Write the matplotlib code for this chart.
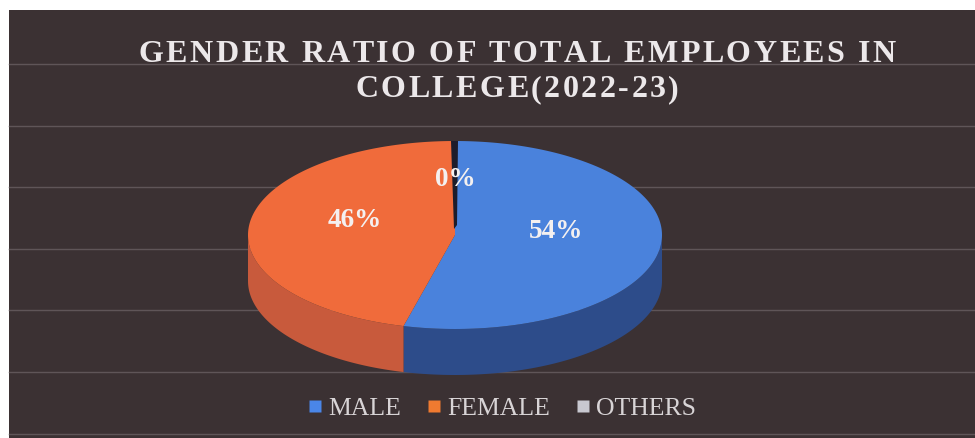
import numpy as np
import matplotlib.pyplot as plt
from matplotlib.patches import Polygon, Rectangle
from matplotlib.lines import Line2D

# データ
categories = ['MALE', 'FEMALE', 'OTHERS']
shares = [54, 46, 0]
title_lines = ['GENDER RATIO OF TOTAL EMPLOYEES IN', 'COLLEGE(2022-23)']

top_colors = ['#4a82dc', '#f06b3b', '#a5a5a5']
side_colors = ['#2d4c8a', '#c85a3c', '#7a7a7a']
legend_colors = ['#4a86e8', '#f07a30', '#c8c8d0']

W, H = 975, 439
fig = plt.figure(figsize=(W / 100, H / 100), dpi=100, facecolor='white')
ax = fig.add_axes([0, 0, 1, 1])
ax.set_xlim(0, W)
ax.set_ylim(H, 0)  # ピクセル座標（上が0）
ax.axis('off')

# 背景と横罫線
ax.add_patch(Rectangle((9, 11), W - 9, H - 11, facecolor='#3b3133', edgecolor='none', zorder=0))
for gy in 65 + 61.6 * np.arange(7):
    ax.plot([9, W], [gy, gy], color='#5f5558', lw=1.0, zorder=1)

# 3D円グラフの形状
cx, cy, rx, ry, depth = 455, 236, 207, 94, 46

def rim(t0, t1, n=150):
    t = np.radians(np.linspace(t0, t1, n))
    return cx + rx * np.sin(t), cy - ry * np.cos(t)

total = sum(shares)
bounds = np.concatenate([[0], np.cumsum(shares) / total * 360])

# 側面（手前側のみ）
for i in range(len(shares)):
    lo, hi = max(bounds[i], 90), min(bounds[i + 1], 270)
    if hi <= lo:
        continue
    x, y = rim(lo, hi)
    pts = np.column_stack([np.concatenate([x, x[::-1]]), np.concatenate([y, (y + depth)[::-1]])])
    ax.add_patch(Polygon(pts, closed=True, facecolor=side_colors[i], edgecolor='none', zorder=3))

# 上面
for i in range(len(shares)):
    if shares[i] == 0:
        continue
    x, y = rim(bounds[i], bounds[i + 1])
    pts = np.column_stack([np.concatenate([[cx], x]), np.concatenate([[cy], y])])
    ax.add_patch(Polygon(pts, closed=True, facecolor=top_colors[i], edgecolor='none', zorder=4))

# 0%スライス部分の隙間
ax.add_patch(Polygon([(cx - 4, cy - ry), (cx + 3, cy - ry), (cx + 2, cy - 10), (cx - 1, cy - 6)],
                     closed=True, facecolor='#1d1c2b', edgecolor='none', zorder=5))

# データラベル
for i, v in enumerate(shares):
    mid = np.radians((bounds[i] + bounds[i + 1]) / 2)
    lx = cx + 0.49 * rx * np.sin(mid)
    ly = cy - 10 - 0.49 * ry * np.cos(mid)
    ax.text(lx, ly, f'{v}%', ha='center', va='center', color='#f4f0f0',
            family='Liberation Serif', weight='bold', fontsize=19.5, zorder=6)

# 字間を空けたタイトル
renderer = fig.canvas.get_renderer()
title_kw = dict(family='Liberation Serif', weight='bold', fontsize=23, color='#ece8ea')

def text_width(s):
    t = ax.text(0, 0, s, **title_kw)
    w = t.get_window_extent(renderer).width
    t.remove()
    return w

def spaced_text(s, xc, base, spacing):
    bar = text_width('||')
    widths = [text_width('|' + ch + '|') - bar for ch in s]
    x = xc - (sum(widths) + spacing * (len(s) - 1)) / 2
    for ch, w in zip(s, widths):
        ax.text(x, base, ch, ha='left', va='baseline', zorder=6, **title_kw)
        x += w + spacing

spaced_text(title_lines[0], 517, 62.5, 2.5)
spaced_text(title_lines[1], 517, 97.5, 2.5)

# 凡例
handles = [Line2D([], [], marker='s', linestyle='none', markersize=8,
                  markerfacecolor=c, markeredgecolor='none') for c in legend_colors]
leg = ax.legend(handles, categories, loc='center', bbox_to_anchor=(502.5 / W, 1 - 409 / H),
                ncol=3, frameon=False, handlelength=0.5, handletextpad=0.25, columnspacing=1.05,
                prop={'family': 'Liberation Serif', 'size': 18.5}, labelcolor='#d8d4d6')

fig.savefig('out.png', dpi=100, facecolor='white')
